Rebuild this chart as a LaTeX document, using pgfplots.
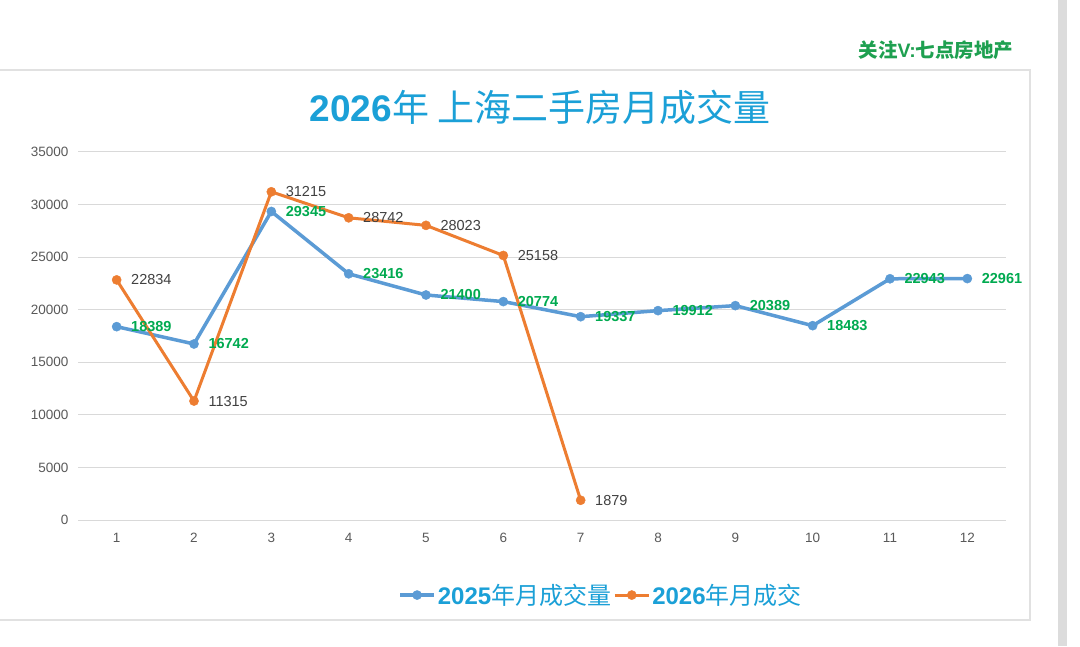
\documentclass[border=0pt]{standalone}
\usepackage{pgfplots}
\pgfplotsset{compat=1.18}
\usepackage{fontspec}
\setmainfont{Liberation Sans}
\newfontfamily\cjk{Noto Sans CJK SC}
\definecolor{serblue}{RGB}{91,155,213}
\definecolor{serorange}{RGB}{237,125,49}
\definecolor{lblgreen}{RGB}{0,170,80}
\definecolor{lblgray}{RGB}{64,64,64}
\definecolor{tickgray}{RGB}{89,89,89}
\definecolor{gridgray}{RGB}{217,217,217}
\definecolor{titleblue}{RGB}{27,160,215}
\definecolor{wmgreen}{RGB}{30,160,80}
\definecolor{panelgray}{RGB}{225,225,225}
\definecolor{stripgray}{RGB}{220,220,220}
\pgfplotstableread{
x y
1 18389
2 16742
3 29345
4 23416
5 21400
6 20774
7 19337
8 19912
9 20389
10 18483
11 22943
12 22961
}\dataA
\pgfplotstableread{
x y
1 22834
2 11315
3 31215
4 28742
5 28023
6 25158
7 1879
}\dataB
\begin{document}
\begin{tikzpicture}
\useasboundingbox (0,0) rectangle (1080pt,646pt);
\fill[white] (0,0) rectangle (1080pt,646pt);
\fill[stripgray] (1058pt,0) rectangle (1067pt,646pt);
\draw[panelgray, line width=1.5pt] (-5pt,26pt) rectangle (1030pt,576pt);
\node[text=wmgreen, font=\fontsize{19.5}{22}\selectfont\bfseries] at (936pt,596pt) {{\cjk\bfseries 关注}V:{\cjk\bfseries 七点房地产}};
\node[text=titleblue, font=\fontsize{37}{42}\selectfont] at (540pt,539pt) {{\bfseries 2026}{\cjk 年 上海二手房月成交量}};
\begin{axis}[
  at={(78pt,126pt)}, anchor=south west,
  scale only axis, width=928pt, height=368pt,
  xmin=0.5, xmax=12.5, ymin=0, ymax=35000,
  xtick={1,...,12}, ytick={0,5000,...,35000},
  axis line style={draw=none},
  major tick length=0pt,
  ymajorgrids, grid style={color=gridgray, line width=1pt},
  tick label style={font=\fontsize{13.5}{15}\selectfont, text=tickgray},
  yticklabel style={xshift=-6pt},
  xticklabel style={yshift=-10pt},
  scaled y ticks=false,
  /pgf/number format/1000 sep={},
  /pgf/number format/assume math mode=true,
  clip=false,
  legend columns=2,
  legend style={at={(0.5636,-0.204)}, anchor=center, draw=none, fill=none,
    font=\fontsize{24}{26}\selectfont, text=titleblue,
    /tikz/every even column/.append style={column sep=0pt}},
  legend image code/.code={\draw[mark repeat=2,mark phase=2,#1] plot coordinates {(0pt,0pt)(17pt,0pt)(34pt,0pt)};},
]
\addplot[color=serblue, line width=3.5pt, mark=*, mark size=4.6pt, mark options={line width=0.4pt},
  nodes near coords,
  every node near coord/.style={anchor=west, xshift=11pt, yshift=0pt, font=\fontsize{14.5}{16}\selectfont\bfseries, text=lblgreen}]
  table[x=x,y=y] {\dataA};
\addlegendentry{{\bfseries 2025}{\cjk 年月成交量}}
\addplot[color=serorange, line width=3pt, mark=*, mark size=4.6pt, mark options={line width=0.4pt},
  nodes near coords,
  every node near coord/.style={anchor=west, xshift=11pt, yshift=0pt, font=\fontsize{14.5}{16}\selectfont, text=lblgray}]
  table[x=x,y=y] {\dataB};
\addlegendentry{{\bfseries 2026}{\cjk 年月成交}}
\end{axis}
\end{tikzpicture}
\end{document}
